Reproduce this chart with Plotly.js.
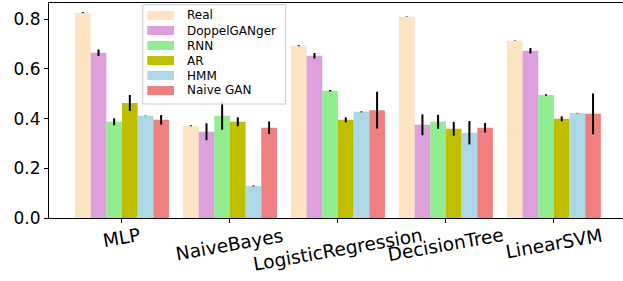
<!DOCTYPE html>
<html>
<head>
<meta charset="utf-8">
<script src="https://cdn.plot.ly/plotly-3.0.1.min.js"></script>
<style>html,body{margin:0;padding:0;background:#fff;}#chart{width:623px;height:281px;}</style>
</head>
<body>
<div id="chart"></div>
<script>
var categories = ["MLP", "NaiveBayes", "LogisticRegression", "DecisionTree", "LinearSVM"];
var seriesNames = ["Real", "DoppelGANger", "RNN", "AR", "HMM", "Naive GAN"];
var seriesColors = ["#FFE4C4", "#DDA0DD", "#90EE90", "#BFBF00", "#ADD8E6", "#F08080"];

var realVals   = [0.826, 0.371, 0.693, 0.810, 0.713];
var realErr    = [0.002, 0.002, 0.002, 0.001, 0.001];
var doppelVals = [0.665, 0.347, 0.653, 0.375, 0.673];
var doppelErr  = [0.013, 0.034, 0.011, 0.042, 0.011];
var rnnVals    = [0.387, 0.411, 0.512, 0.387, 0.495];
var rnnErr     = [0.014, 0.056, 0.003, 0.028, 0.003];
var arVals     = [0.463, 0.387, 0.395, 0.359, 0.399];
var arErr      = [0.032, 0.018, 0.010, 0.028, 0.010];
var hmmVals    = [0.411, 0.129, 0.427, 0.343, 0.422];
var hmmErr     = [0.001, 0.002, 0.002, 0.047, 0.001];
var ganVals    = [0.395, 0.363, 0.434, 0.363, 0.419];
var ganErr     = [0.019, 0.025, 0.074, 0.019, 0.082];

var allVals = [realVals, doppelVals, rnnVals, arVals, hmmVals, ganVals];
var allErr  = [realErr, doppelErr, rnnErr, arErr, hmmErr, ganErr];

var W = 623, H = 281;
var M = {l: 49, r: 0, t: 3, b: 63};
var plotW = W - M.l - M.r, plotH = H - M.t - M.b;
function px2paperX(px){ return (px - M.l) / plotW; }
function px2paperY(py){ return (H - M.b - py) / plotH; }

var barW = 0.145;
var xIdx = categories.map(function(_, i){ return i; });
var traces = seriesNames.map(function(name, s){
  return {
    type: "bar",
    name: name,
    x: xIdx,
    y: allVals[s],
    width: barW,
    offset: (s - 3) * barW,
    marker: {color: seriesColors[s], line: {width: 0}},
    error_y: {type: "data", array: allErr[s], visible: true, color: "#000", thickness: 2, width: 0},
    showlegend: false
  };
});

var annotations = categories.map(function(c, i){
  return {
    x: i, xref: "x", y: 0, yref: "paper",
    text: c, showarrow: false, textangle: -10,
    xanchor: "center", yanchor: "top", yshift: -4,
    font: {family: "DejaVu Sans", size: 18.5, color: "#000"}
  };
});

// legend drawn as layout shapes + text
var shapes = [{
  type: "rect", xref: "paper", yref: "paper",
  x0: px2paperX(142.7), x1: px2paperX(285.7), y0: px2paperY(104), y1: px2paperY(4.7),
  line: {color: "#cccccc", width: 1}, fillcolor: "rgba(255,255,255,0.8)", layer: "above"
}];
seriesNames.forEach(function(name, s){
  var cy = 15.5 + 15 * s;
  shapes.push({
    type: "rect", xref: "paper", yref: "paper",
    x0: px2paperX(147.3), x1: px2paperX(174), y0: px2paperY(cy + 4.5), y1: px2paperY(cy - 4.5),
    line: {width: 0}, fillcolor: seriesColors[s], layer: "above"
  });
  annotations.push({
    x: px2paperX(184.5), xref: "paper", y: px2paperY(cy), yref: "paper",
    text: name, showarrow: false, xanchor: "left", yanchor: "middle",
    font: {family: "DejaVu Sans", size: 12, color: "#000"}
  });
});

var layout = {
  width: W, height: H,
  margin: M,
  paper_bgcolor: "#fff", plot_bgcolor: "#fff",
  font: {family: "DejaVu Sans", color: "#000"},
  barmode: "overlay",
  showlegend: false,
  xaxis: {
    range: [-0.676, 4.64],
    tickvals: xIdx, showticklabels: false,
    ticks: "outside", ticklen: 4, tickcolor: "#000",
    showline: true, linecolor: "#000", linewidth: 1, mirror: true,
    showgrid: false, zeroline: false
  },
  yaxis: {
    range: [0, 0.865],
    tickvals: [0, 0.2, 0.4, 0.6, 0.8], ticktext: ["0.0", "0.2", "0.4", "0.6", "0.8"],
    ticks: "outside", ticklen: 4, tickcolor: "#000",
    tickfont: {family: "DejaVu Sans", size: 17, color: "#000"},
    showline: true, linecolor: "#000", linewidth: 1,
    showgrid: false, zeroline: false
  },
  shapes: shapes,
  annotations: annotations
};

Plotly.newPlot("chart", traces, layout, {displayModeBar: false, staticPlot: true});
</script>
</body>
</html>
